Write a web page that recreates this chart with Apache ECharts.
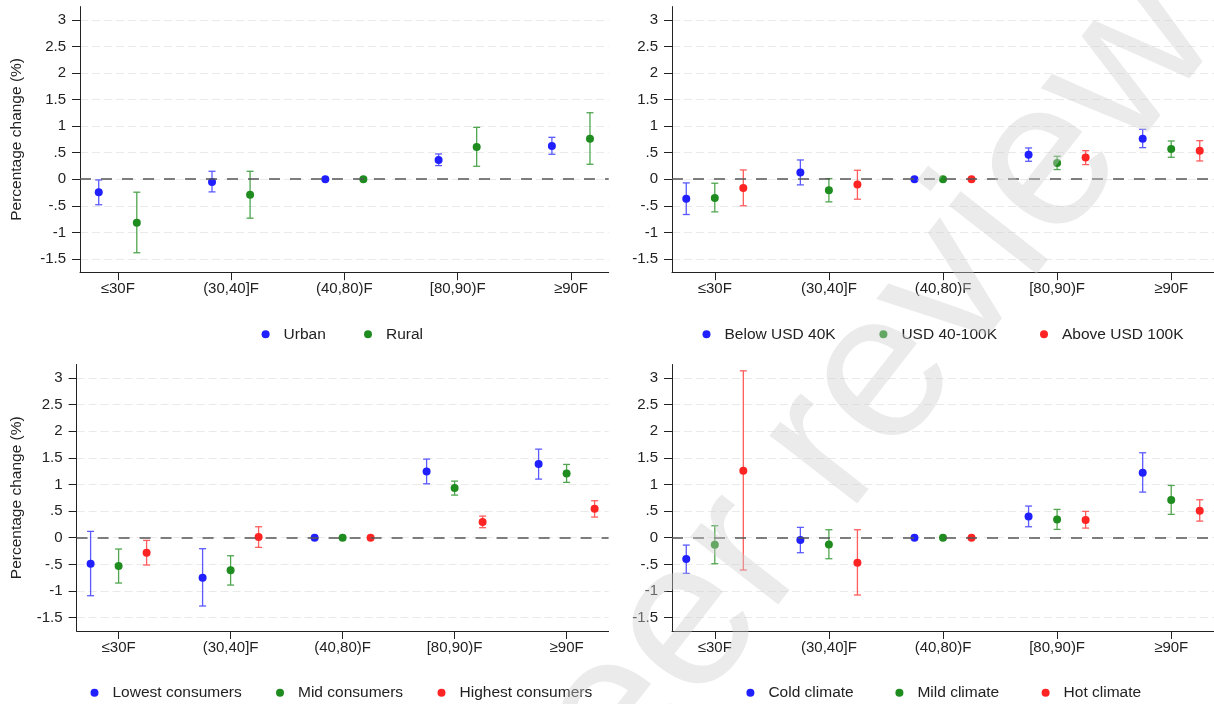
<!DOCTYPE html>
<html>
<head>
    <meta charset="utf-8"/>
    <style>
        html, body { margin: 0; padding: 0; background: #fff; }
        #container { width: 1214px; height: 704px; }
    </style>
</head>
<body>
<div id="container"></div>
<script src="https://cdn.jsdelivr.net/npm/echarts@6/dist/echarts.min.js"></script>
<script type="text/javascript">
    var categories = ['≤30F', '(30,40]F', '(40,80)F', '[80,90)F', '≥90F'];
    var catPos = [1, 2, 3, 4, 5];
    var yTicks = [-1.5, -1, -0.5, 0, 0.5, 1, 1.5, 2, 2.5, 3];

    // urban / rural
    var urbanEst = [-0.244, -0.05, 0, 0.363, 0.626];
    var urbanLo = [-0.48, -0.238, null, 0.257, 0.47];
    var urbanHi = [-0.013, 0.15, null, 0.476, 0.789];
    var ruralEst = [-0.82, -0.294, 0, 0.607, 0.764];
    var ruralLo = [-1.384, -0.733, null, 0.244, 0.282];
    var ruralHi = [-0.244, 0.15, null, 0.977, 1.252];

    // income
    var lowIncEst = [-0.369, 0.125, 0, 0.463, 0.764];
    var lowIncLo = [-0.664, -0.106, null, 0.338, 0.595];
    var lowIncHi = [-0.069, 0.363, null, 0.589, 0.939];
    var midIncEst = [-0.351, -0.207, 0, 0.307, 0.57];
    var midIncLo = [-0.614, -0.426, null, 0.182, 0.413];
    var midIncHi = [-0.075, 0.012, null, 0.432, 0.72];
    var highIncEst = [-0.163, -0.10, 0, 0.407, 0.538];
    var highIncLo = [-0.50, -0.376, null, 0.276, 0.344];
    var highIncHi = [0.175, 0.169, null, 0.538, 0.726];

    // consumption
    var lowConEst = [-0.488, -0.75, 0, 1.244, 1.381];
    var lowConLo = [-1.088, -1.281, null, 1.012, 1.10];
    var lowConHi = [0.119, -0.206, null, 1.475, 1.662];
    var midConEst = [-0.531, -0.612, 0, 0.931, 1.206];
    var midConLo = [-0.85, -0.888, null, 0.80, 1.038];
    var midConHi = [-0.212, -0.338, null, 1.062, 1.375];
    var highConEst = [-0.281, 0.012, 0, 0.294, 0.544];
    var highConLo = [-0.512, -0.181, null, 0.188, 0.388];
    var highConHi = [-0.05, 0.206, null, 0.406, 0.694];

    // climate
    var coldEst = [-0.40, -0.044, 0, 0.40, 1.219];
    var coldLo = [-0.669, -0.281, null, 0.206, 0.856];
    var coldHi = [-0.138, 0.194, null, 0.594, 1.594];
    var mildEst = [-0.131, -0.125, 0, 0.344, 0.706];
    var mildLo = [-0.488, -0.394, null, 0.156, 0.438];
    var mildHi = [0.225, 0.15, null, 0.531, 0.981];
    var hotEst = [1.256, -0.469, 0, 0.331, 0.506];
    var hotLo = [-0.606, -1.075, null, 0.181, 0.312];
    var hotHi = [3.131, 0.15, null, 0.494, 0.712];

    var BLUE = '#1f1fff', GREEN = '#1f8c1f', RED = '#ff2424';
    var BLUE_BAR = '#5a5aff', GREEN_BAR = '#4fa64f', RED_BAR = '#ff5c5c';
    var FONT = "'Liberation Sans', Arial, sans-serif";

    var panels = [
        {
            grid: {left: 80, top: 6.6, width: 528.7, height: 265.6},
            xMin: 2 / 3, xMax: 16 / 3, yName: true, nameGap: 55,
            offsets: [-0.168, 0.168],
            legendTop: 325.3, legendX: [265.6, 368],
            groups: [
                ['Urban', urbanEst, urbanLo, urbanHi, BLUE, BLUE_BAR],
                ['Rural', ruralEst, ruralLo, ruralHi, GREEN, GREEN_BAR]
            ]
        },
        {
            grid: {left: 672, top: 6.6, width: 550, height: 265.6},
            xMin: 0.625, xMax: 5.375, yName: false,
            offsets: [-0.25, 0, 0.25],
            legendTop: 325.3, legendX: [706.5, 883.4, 1044],
            groups: [
                ['Below USD 40K', lowIncEst, lowIncLo, lowIncHi, BLUE, BLUE_BAR],
                ['USD 40-100K', midIncEst, midIncLo, midIncHi, GREEN, GREEN_BAR],
                ['Above USD 100K', highIncEst, highIncLo, highIncHi, RED, RED_BAR]
            ]
        },
        {
            grid: {left: 76.6, top: 364.5, width: 532, height: 266.5},
            xMin: 0.625, xMax: 5.375, yName: true, nameGap: 52,
            offsets: [-0.25, 0, 0.25],
            legendTop: 683.7, legendX: [94.5, 280, 441.5],
            groups: [
                ['Lowest consumers', lowConEst, lowConLo, lowConHi, BLUE, BLUE_BAR],
                ['Mid consumers', midConEst, midConLo, midConHi, GREEN, GREEN_BAR],
                ['Highest consumers', highConEst, highConLo, highConHi, RED, RED_BAR]
            ]
        },
        {
            grid: {left: 672, top: 364.5, width: 550, height: 266.5},
            xMin: 0.625, xMax: 5.375, yName: false,
            offsets: [-0.25, 0, 0.25],
            legendTop: 683.7, legendX: [750.4, 899.4, 1045.6],
            groups: [
                ['Cold climate', coldEst, coldLo, coldHi, BLUE, BLUE_BAR],
                ['Mild climate', mildEst, mildLo, mildHi, GREEN, GREEN_BAR],
                ['Hot climate', hotEst, hotLo, hotHi, RED, RED_BAR]
            ]
        }
    ];

    function yLabel(v) {
        return String(v).replace('0.', '.');
    }

    function errorBar(color) {
        return function (params, api) {
            var lo = api.coord([api.value(0), api.value(1)]);
            var hi = api.coord([api.value(0), api.value(2)]);
            var w = 3.5;
            var st = {stroke: color, lineWidth: 1.3};
            return {
                type: 'group',
                children: [
                    {type: 'line', shape: {x1: lo[0], y1: lo[1], x2: hi[0], y2: hi[1]}, style: st},
                    {type: 'line', shape: {x1: lo[0] - w, y1: lo[1], x2: lo[0] + w, y2: lo[1]}, style: st},
                    {type: 'line', shape: {x1: hi[0] - w, y1: hi[1], x2: hi[0] + w, y2: hi[1]}, style: st}
                ]
            };
        };
    }

    var grids = [], xAxes = [], yAxes = [], series = [], legends = [];

    panels.forEach(function (p, pi) {
        grids.push(p.grid);
        xAxes.push({
            type: 'value', gridIndex: pi, min: p.xMin, max: p.xMax,
            axisLine: {show: true, onZero: false, lineStyle: {color: '#222', width: 1}},
            axisTick: {show: true, length: 8, customValues: catPos, lineStyle: {color: '#222'}},
            axisLabel: {
                customValues: catPos, margin: 9, color: '#222', fontSize: 15, fontFamily: FONT,
                formatter: function (v) { return categories[Math.round(v) - 1]; }
            },
            splitLine: {show: false}
        });
        yAxes.push({
            type: 'value', gridIndex: pi, min: -1.75, max: 3.25,
            name: p.yName ? 'Percentage change (%)' : '',
            nameLocation: 'middle', nameGap: p.nameGap || 50,
            nameTextStyle: {color: '#222', fontSize: 15.5, fontFamily: FONT},
            axisLine: {show: true, onZero: false, lineStyle: {color: '#222', width: 1}},
            axisTick: {show: true, length: 8, customValues: yTicks, lineStyle: {color: '#222'}},
            axisLabel: {customValues: yTicks, margin: 14, color: '#222', fontSize: 15, fontFamily: FONT, formatter: yLabel},
            splitLine: {show: true, lineStyle: {color: '#e9e9e9', width: 1.2, type: [8, 4]}}
        });

        p.groups.forEach(function (g, gi) {
            var pts = [], bars = [];
            for (var i = 0; i < categories.length; i++) {
                var x = catPos[i] + p.offsets[gi];
                pts.push([x, g[1][i]]);
                if (g[2][i] !== null) bars.push([x, g[2][i], g[3][i]]);
            }
            var bar = {
                name: g[0] + ' CI', type: 'custom', xAxisIndex: pi, yAxisIndex: pi,
                renderItem: errorBar(g[5]), data: bars, z: 3, silent: true,
                encode: {x: 0, y: [1, 2]}
            };
            if (gi === 0) {
                bar.markLine = {
                    silent: true, symbol: 'none', label: {show: false},
                    lineStyle: {color: '#555', width: 1.6, type: [11, 10]},
                    data: [{yAxis: 0}]
                };
            }
            series.push(bar);
            series.push({
                name: g[0], type: 'scatter', xAxisIndex: pi, yAxisIndex: pi,
                symbol: 'circle', symbolSize: 8, data: pts, z: 4,
                itemStyle: {color: g[4], opacity: 1}
            });
            legends.push({
                data: [g[0]], left: p.legendX[gi] - 4, top: p.legendTop, padding: 0,
                icon: 'circle', itemWidth: 8, itemHeight: 8, selectedMode: false,
                textStyle: {color: '#222', fontSize: 15.5, fontFamily: FONT, lineHeight: 18, padding: [0, 0, 0, 9]}
            });
        });
    });

    var dom = document.getElementById('container');
    var myChart = echarts.init(dom, null, {renderer: 'canvas'});
    var option = {
        backgroundColor: '#fff',
        animation: false,
        grid: grids,
        xAxis: xAxes,
        yAxis: yAxes,
        legend: legends,
        series: series,
        graphic: [{
            type: 'text', x: 835, y: 438, rotation: 52 * Math.PI / 180, z: 100, silent: true,
            style: {
                text: 'Peer review', fontSize: 210, fontFamily: FONT,
                fill: 'rgba(205,205,205,0.4)', align: 'center', verticalAlign: 'middle'
            }
        }]
    };
    myChart.setOption(option, true);
</script>
</body>
</html>
